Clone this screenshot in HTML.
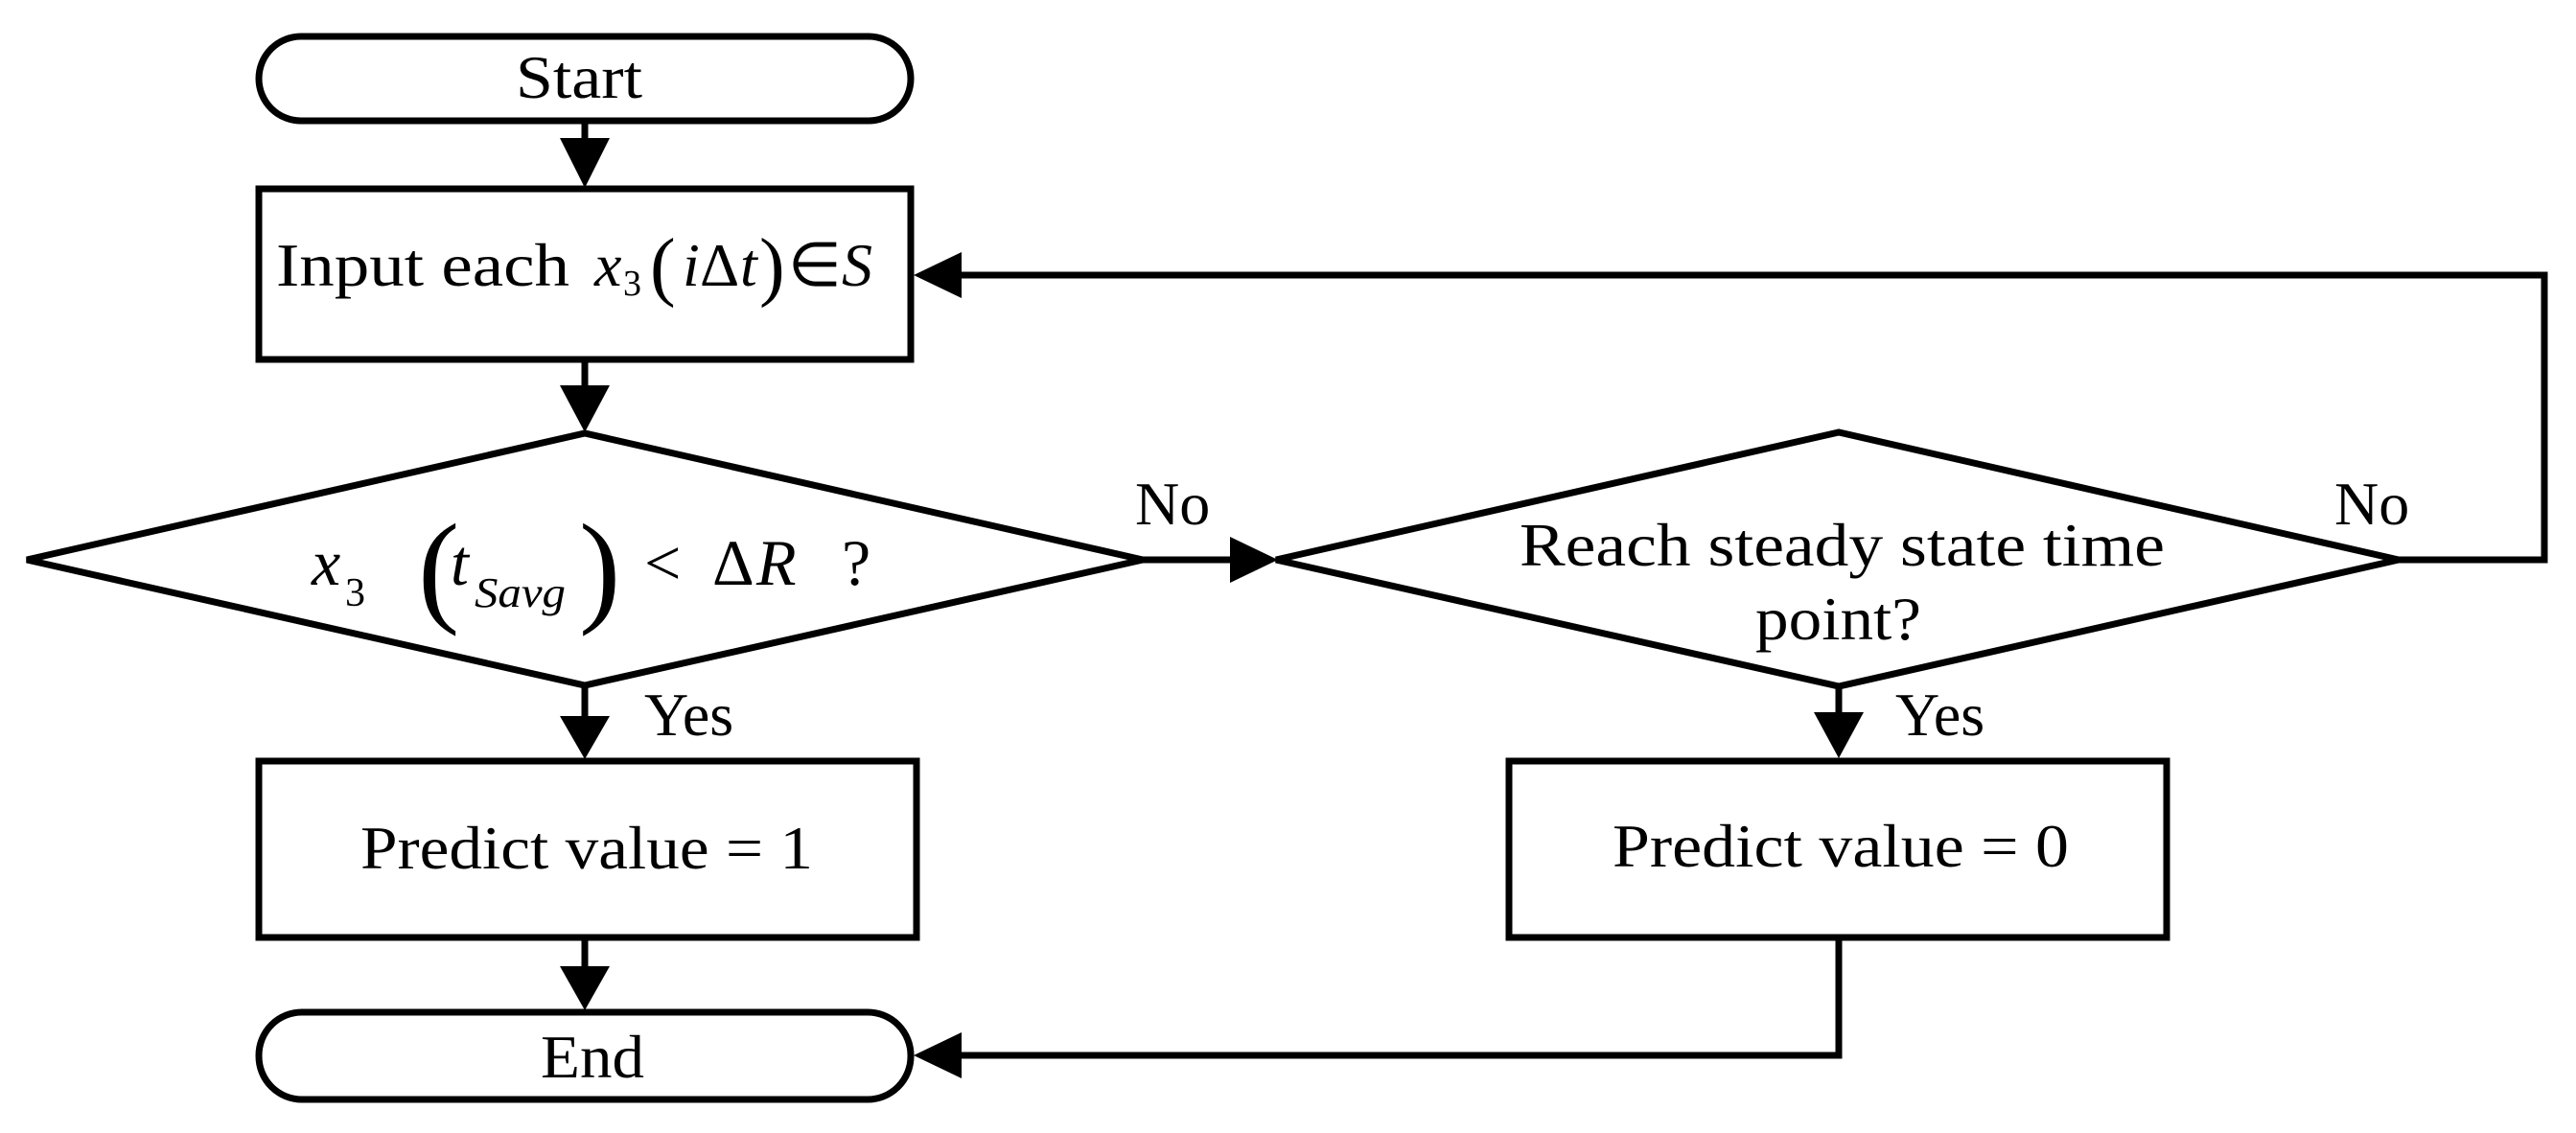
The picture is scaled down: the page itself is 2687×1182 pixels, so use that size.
<!DOCTYPE html>
<html><head><meta charset="utf-8"><style>html,body{margin:0;padding:0;background:#fff}svg{display:block}</style></head>
<body>
<svg width="2687" height="1182" viewBox="0 0 2687 1182" xmlns="http://www.w3.org/2000/svg" font-family="'Liberation Serif', serif" fill="#000">
<g fill="none" stroke="#000" stroke-width="7" stroke-linejoin="miter">
<rect x="270" y="38" width="680" height="88" rx="44"/>
<rect x="270" y="197" width="680" height="178"/>
<polygon points="28,584 610,452 1192,584 610,715"/>
<rect x="270" y="794" width="686" height="184"/>
<rect x="270" y="1056" width="680" height="91" rx="45"/>
<polygon points="1331,584 1918,451 2502,584 1918,716"/>
<rect x="1574" y="794" width="686" height="184"/>
<line x1="610" y1="126" x2="610" y2="150"/>
<line x1="610" y1="375" x2="610" y2="405"/>
<line x1="610" y1="715" x2="610" y2="750"/>
<line x1="610" y1="978" x2="610" y2="1010"/>
<line x1="1192" y1="584" x2="1290" y2="584"/>
<polyline points="2502,584 2654,584 2654,287 1000,287"/>
<line x1="1918" y1="716" x2="1918" y2="746"/>
<polyline points="1918,978 1918,1101 1000,1101"/>
</g>
<g stroke="none">
<polygon points="584,144 636,144 610,196"/>
<polygon points="584,402 636,402 610,451"/>
<polygon points="584,747 636,747 610,792"/>
<polygon points="584,1008 636,1008 610,1054"/>
<polygon points="1283,560 1283,608 1333,584"/>
<polygon points="1003,263 1003,311 953,287"/>
<polygon points="1892,743 1944,743 1918,791"/>
<polygon points="1003,1077 1003,1125 953,1101"/>
</g>
<g font-size="64">
<text x="538" y="102" textLength="132" lengthAdjust="spacingAndGlyphs">Start</text>
<text x="288" y="298" textLength="306" lengthAdjust="spacingAndGlyphs">Input each</text>
<text x="620" y="298" font-style="italic">x</text>
<text x="650" y="308" font-size="38">3</text>
<text x="678" y="304" font-size="80">(</text>
<text x="712" y="298" font-style="italic">i</text>
<text x="730" y="298">Δ</text>
<text x="772" y="298" font-style="italic">t</text>
<text x="792" y="304" font-size="80">)</text>
<text x="822" y="298">∈</text>
<text x="878" y="298" font-style="italic">S</text>
<text x="325" y="610" font-size="68" font-style="italic">x</text>
<text x="360" y="632" font-size="42">3</text>
<text x="436" y="636" font-size="130">(</text>
<text x="470" y="610" font-size="68" font-style="italic">t</text>
<text x="495" y="633" font-size="44" font-style="italic" textLength="95" lengthAdjust="spacingAndGlyphs">Savg</text>
<text x="604" y="636" font-size="130">)</text>
<text x="672" y="610" font-size="68">&lt;</text>
<text x="743" y="610" font-size="68">Δ</text>
<text x="789" y="610" font-size="68" font-style="italic">R</text>
<text x="878" y="610" font-size="68">?</text>
<text x="1184" y="547">No</text>
<text x="2435" y="547">No</text>
<text x="672" y="767">Yes</text>
<text x="1977" y="767">Yes</text>
<text x="1585" y="590" textLength="673" lengthAdjust="spacingAndGlyphs">Reach steady state time</text>
<text x="1831" y="667" textLength="173" lengthAdjust="spacingAndGlyphs">point?</text>
<text x="376" y="906" textLength="472" lengthAdjust="spacingAndGlyphs">Predict value = 1</text>
<text x="1682" y="904" textLength="476" lengthAdjust="spacingAndGlyphs">Predict value = 0</text>
<text x="564" y="1124" textLength="108" lengthAdjust="spacingAndGlyphs">End</text>
</g>
</svg>
</body></html>
